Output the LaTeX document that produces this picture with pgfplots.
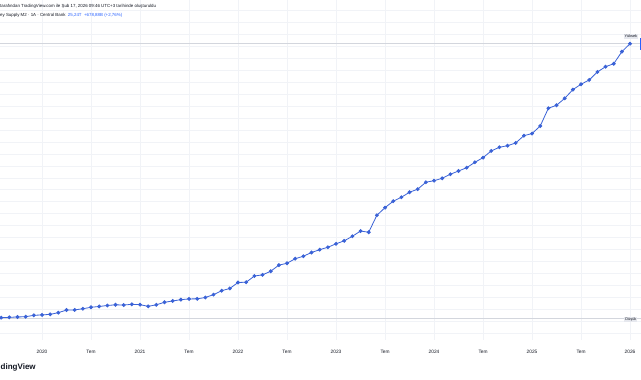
\documentclass[border=0pt]{standalone}
\usepackage{pgfplots}
\pgfplotsset{compat=1.18}
\usepackage{fontspec}
\setmainfont{Liberation Sans}
\definecolor{tvblue}{HTML}{3A62D7}
\definecolor{gridc}{HTML}{F1F3F7}
\definecolor{hlc}{HTML}{D3D6DD}
\definecolor{txt}{HTML}{131722}
\definecolor{bluetxt}{HTML}{2962FF}
\definecolor{lblbg}{HTML}{E6E8EE}
\begin{document}
\begin{tikzpicture}
\useasboundingbox (0,0) rectangle (641pt,380pt);
\fill[white] (0,0) rectangle (641pt,380pt);
\begin{axis}[
  at={(0pt,40pt)}, anchor=south west,
  scale only axis, width=641pt, height=340pt,
  xmin=-5.143, xmax=73.34, ymin=0.41, ymax=28.9,
  axis line style={draw=none},
  tick style={draw=none},
  major tick length=0pt,
  xtick={0,6,...,72},
  xticklabels={2020,Tem,2021,Tem,2022,Tem,2023,Tem,2024,Tem,2025,Tem,2026},
  xticklabel style={anchor=center, yshift=-12pt, font=\fontsize{4.8}{5}\selectfont, text=txt},
  ytick={1,2,...,28},
  yticklabels={},
  grid=major,
  major grid style={color=gridc, line width=0.6pt},
  clip=true,
]
\addplot[hlc, line width=0.8pt, forget plot] coordinates {(-6,25.24) (74,25.24)};
\addplot[hlc, line width=0.8pt, forget plot] coordinates {(-6,2.26) (74,2.26)};
\addplot[tvblue, line width=0.8pt, mark=*, mark size=1.5pt, mark options={fill=tvblue, draw=tvblue}] table {
x y
-5 2.28
-4 2.31
-3 2.34
-2 2.36
-1 2.48
0 2.51
1 2.56
2 2.70
3 2.92
4 2.93
5 3.03
6 3.15
7 3.22
8 3.30
9 3.36
10 3.34
11 3.40
12 3.37
13 3.23
14 3.36
15 3.57
16 3.68
17 3.79
18 3.85
19 3.86
20 3.97
21 4.21
22 4.54
23 4.73
24 5.23
25 5.25
26 5.77
27 5.87
28 6.17
29 6.68
30 6.84
31 7.22
32 7.43
33 7.74
34 7.98
35 8.18
36 8.47
37 8.72
38 9.10
39 9.54
40 9.44
41 10.86
42 11.50
43 12.04
44 12.37
45 12.79
46 13.05
47 13.63
48 13.76
49 13.96
50 14.30
51 14.57
52 14.85
53 15.30
54 15.69
55 16.25
56 16.56
57 16.69
58 16.92
59 17.53
60 17.71
61 18.34
62 19.83
63 20.08
64 20.66
65 21.39
66 21.84
67 22.20
68 22.87
69 23.31
70 23.56
71 24.57
72 25.24
};
\node[fill=lblbg, text=txt, font=\fontsize{3.8}{4}\selectfont, inner sep=1pt] at (axis cs:72.1,25.85) {Yüksek};
\node[fill=lblbg, text=txt, font=\fontsize{3.8}{4}\selectfont, inner sep=1pt] at (axis cs:72.1,2.12) {Düşük};
\end{axis}
\fill[bluetxt] (639.5pt,330pt) rectangle (641pt,342pt);
\node[anchor=west, inner sep=0pt, text=txt, font=\fontsize{4.4}{5}\selectfont] at (0pt,374pt) {tarafından TradingView.com ile Şub 17, 2026 09:46 UTC+3 tarihinde oluşturuldu};
\node[anchor=west, inner sep=0pt, text=txt, font=\fontsize{4.4}{5}\selectfont] at (0pt,365pt) {ey Supply M2 · 1A · Central Bank\ \ \textcolor{bluetxt}{25,24T\ \ +678,88B (+2,76\%)}};
\node[anchor=west, inner sep=0pt, text=txt, font=\bfseries\fontsize{8}{9}\selectfont] at (0.5pt,13pt) {dingView};
\end{tikzpicture}
\end{document}
